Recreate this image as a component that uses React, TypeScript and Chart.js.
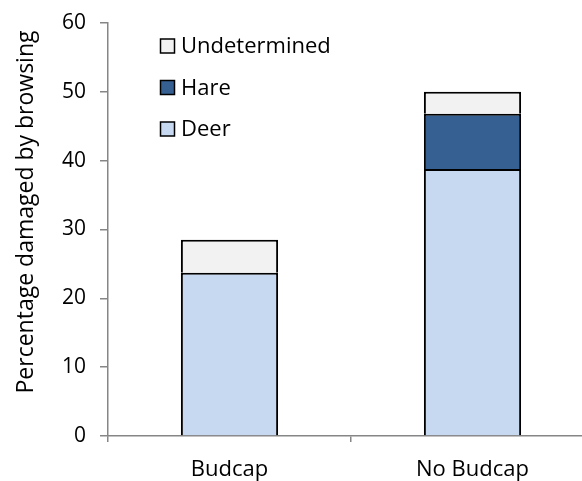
import React, { useEffect, useRef } from "react";
import { Chart, registerables } from "chart.js";

Chart.register(...registerables);

const categories = ["Budcap", "No Budcap"];
const deerValues = [23.7, 38.8];
const hareValues = [0, 8.0];
const undeterminedValues = [4.8, 3.2];
const yTickValues = [0, 10, 20, 30, 40, 50, 60];
const yTitle = "Percentage damaged by browsing";

const FONT = "'Open Sans'";
const AXIS_GRAY = "#868686";

export default function App() {
  const ref = useRef<HTMLCanvasElement | null>(null);

  useEffect(() => {
    if (!ref.current) return;

    const overlay = {
      id: "overlay",
      afterDraw(chart: any) {
        const ctx = chart.ctx;
        ctx.save();
        ctx.fillStyle = "#000";
        // y-axis title
        ctx.save();
        ctx.font = `23px ${FONT}`;
        ctx.translate(26, 212);
        ctx.rotate(-Math.PI / 2);
        ctx.textAlign = "center";
        ctx.textBaseline = "middle";
        ctx.fillText(yTitle, 0, 0);
        ctx.restore();
        // legend (reversed order, inside the plot)
        ctx.font = `22px ${FONT}`;
        const ds = chart.data.datasets.slice().reverse();
        const x0 = 160.5;
        const y0 = 46;
        const step = 41.5;
        const sz = 14;
        ds.forEach((d: any, i: number) => {
          const cy = y0 + i * step;
          ctx.fillStyle = d.backgroundColor;
          ctx.fillRect(x0, cy - sz / 2, sz, sz);
          ctx.strokeStyle = "#000";
          ctx.lineWidth = 1.5;
          ctx.strokeRect(x0, cy - sz / 2, sz, sz);
          ctx.fillStyle = "#000";
          ctx.textAlign = "left";
          ctx.textBaseline = "middle";
          ctx.fillText(d.label, 181, cy + 1);
        });
        ctx.restore();
      },
    };

    const chart = new Chart(ref.current, {
      type: "bar",
      data: {
        labels: categories,
        datasets: [
          { label: "Deer", data: deerValues, backgroundColor: "#C6D9F1", borderColor: "#000", borderWidth: 2, borderSkipped: "bottom" },
          { label: "Hare", data: hareValues, backgroundColor: "#376092", borderColor: "#000", borderWidth: 2, borderSkipped: "bottom" },
          { label: "Undetermined", data: undeterminedValues, backgroundColor: "#F2F2F2", borderColor: "#000", borderWidth: 2, borderSkipped: "bottom" },
        ],
      },
      options: {
        responsive: false,
        animation: false,
        devicePixelRatio: 1,
        layout: { padding: { left: 0, right: 6, top: 23, bottom: 0 } },
        datasets: { bar: { categoryPercentage: 1, barPercentage: 0.4 } },
        plugins: { legend: { display: false }, tooltip: { enabled: false } },
        scales: {
          x: {
            stacked: true,
            grid: { offset: true, drawOnChartArea: false, drawTicks: true, tickLength: 6, color: AXIS_GRAY, lineWidth: 1.5 },
            border: { color: AXIS_GRAY, width: 1.5 },
            ticks: { color: "#000", font: { family: FONT, size: 22 }, padding: 15 },
            afterFit: (s: any) => {
              s.height = 45;
              s.paddingLeft = 0;
              s.paddingRight = 0;
            },
          },
          y: {
            stacked: true,
            min: 0,
            max: 60,
            afterBuildTicks: (s: any) => { s.ticks = yTickValues.map((v) => ({ value: v })); },
            grid: { drawOnChartArea: false, drawTicks: true, tickLength: 8, color: AXIS_GRAY, lineWidth: 1.5 },
            border: { color: AXIS_GRAY, width: 1.5 },
            ticks: { color: "#000", font: { family: FONT, size: 21 }, padding: 14 },
            afterFit: (s: any) => {
              s.width = 108;
              s.paddingTop = 0;
              s.paddingBottom = 0;
            },
          },
        },
      },
      plugins: [overlay],
    });

    return () => chart.destroy();
  }, []);

  return (
    <div style={{ position: "fixed", left: 0, top: 0, width: 582, height: 481, overflow: "hidden", background: "#fff" }}>
      <canvas ref={ref} width={600} height={481} style={{ display: "block" }} />
    </div>
  );
}
